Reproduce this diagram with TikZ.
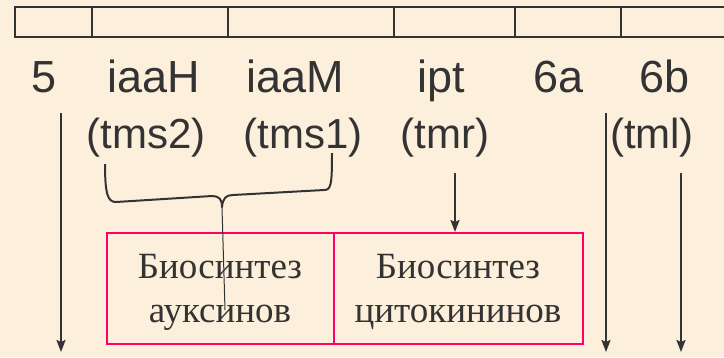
\documentclass[tikz,border=0pt]{standalone}
\usepackage{fontspec}
\setmainfont{Liberation Serif}
\newfontfamily\arialf{Liberation Sans}
\usetikzlibrary{arrows.meta,calc}
\definecolor{bg}{RGB}{252,240,220}
\definecolor{ink}{RGB}{51,51,51}
\definecolor{rose}{RGB}{255,0,102}

\begin{document}
\begin{tikzpicture}[x=1pt,y=-1pt,
  gene/.style={font=\arialf\fontsize{45}{50}\selectfont, text=ink, anchor=base, inner sep=0pt},
  alias/.style={font=\arialf\fontsize{42}{48}\selectfont, text=ink, anchor=base, inner sep=0pt},
  proc/.style={draw=rose, line width=2pt, minimum height=111pt, inner sep=0pt},
  ptext/.style={font=\fontsize{37}{44}\selectfont, text=ink, anchor=base, inner sep=0pt},
  flow/.style={draw=ink, line width=2pt, -{Stealth[length=12pt,width=9pt,inset=2pt]}},
  cell/.style={draw=ink, line width=2pt}]

% page and background
\fill[bg] (0,0) rectangle (724,357);
\useasboundingbox (0,0) rectangle (724,357);

% segmented bar on top
\draw[cell] (740,7) -| (15,37) -- (740,37);
\foreach \xc in {92,228,394,515,621}
  \draw[cell] (\xc,7) -- (\xc,37);

% gene names
\node[gene] (g5)   at (44,92)  {5};
\node[gene] (gH)   at (154,92) {iaaH};
\node[gene] (gM)   at (295,92) {iaaM};
\node[gene] (gipt) at (441,92) {ipt};
\node[gene] (g6a)  at (559,92) {6a};
\node[gene] (g6b)  at (665,92) {6b};

% alternative names
\node[alias] (tms2) at (146,148) {(tms2)};
\node[alias] (tms1) at (303,148) {(tms1)};
\node[alias] (tmr)  at (445,148) {(tmr)};
\node[alias] (tml)  at (652,148) {(tml)};

% process boxes
\node[proc, minimum width=227pt] (aux) at (220.5,288.5) {};
\node[proc, minimum width=249pt] (cyt) at (458.5,288.5) {};
\node[ptext] (aux1) at (220,278) {Биосинтез};
\node[ptext] (aux2) at (220,322) {ауксинов};
\node[ptext] (cyt1) at (458,278) {Биосинтез};
\node[ptext] (cyt2) at (458,322) {цитокининов};

% arrow ends
\coordinate (s5)  at (61,113);
\coordinate (e5)  at (61,352);
\coordinate (sip) at (455,173);
\coordinate (s6a) at (606,113);
\coordinate (e6a) at (606,352);
\coordinate (s6b) at (681,173);
\coordinate (e6b) at (681,352);

\draw[flow] (s5) -- (e5);
\draw[flow] (sip) -- (sip |- cyt.north);
\draw[flow] (s6a) -- (e6a);
\draw[flow] (s6b) -- (e6b);

% brace joining tms2 and tms1
\coordinate (cusp) at (222,207);
\coordinate (stem) at (225,310);
\draw[ink, line width=2pt, line join=round]
  (105,164) .. controls (105,195) and (108,202) .. (116,202)
  -- (212,196) .. controls (219,196) and (222,199) .. (cusp)
  .. controls (223,198) and (226,195) .. (233,195)
  -- (324,190) .. controls (331,190) and (332,185) .. (332,153);
\draw[ink, line width=1pt] (cusp) -- (stem);
\end{tikzpicture}
\end{document}
